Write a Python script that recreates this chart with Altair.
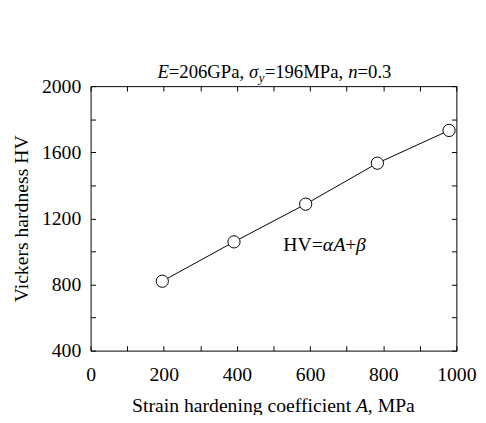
import altair as alt
import pandas as pd

# ---- data ----
A_values = [196, 392, 588, 784, 980]          # strain hardening coefficient A, MPa
HV_values = [820, 1058, 1286, 1534, 1732]     # Vickers hardness HV

x_ticks = [0, 100, 200, 300, 400, 500, 600, 700, 800, 900, 1000]
x_labels = [0, 200, 400, 600, 800, 1000]
y_ticks = [400, 600, 800, 1000, 1200, 1400, 1600, 1800, 2000]
y_labels = [400, 800, 1200, 1600, 2000]

title_parts = ["E", "=206GPa,", "σ", "y", "=196MPa,", "n", "=0.3"]
xtitle_parts = ["Strain hardening coefficient", "A", ", MPa"]
eq_parts = ["HV=", "α", "A", "+", "β"]
y_title = "Vickers hardness HV"

# ---- layout / styles ----
FONT = "Liberation Serif"
W, H = 372, 269
FS = 20

df = pd.DataFrame({"A": A_values, "HV": HV_values})

xscale = alt.Scale(domain=[0, 1000], nice=False, zero=False)
yscale = alt.Scale(domain=[400, 2000], nice=False, zero=False)


def label_expr(vals):
    return "indexof([" + ",".join(str(v) for v in vals) + "], datum.value) >= 0 ? datum.label : ''"


common = dict(domain=False, grid=False, tickSize=5, tickColor="black", tickWidth=1,
              offset=-5, labelFont=FONT, labelFontSize=FS, labelColor="black",
              labelOverlap=False, labelFlush=False)

bottom_axis = alt.Axis(values=x_ticks, labelExpr=label_expr(x_labels), labelPadding=14,
                       title=None, format="d", **common)
left_axis = alt.Axis(values=y_ticks, labelExpr=label_expr(y_labels), labelPadding=10,
                     title=y_title, titleFont=FONT, titleFontSize=FS, titleFontWeight="normal",
                     titleColor="black", titlePadding=10, format="d", **common)
top_axis = alt.Axis(values=x_ticks, orient="top", labels=False, title=None, **common)
right_axis = alt.Axis(values=y_ticks, orient="right", labels=False, title=None, **common)

base = alt.Chart(df)

line = base.mark_line(color="black", strokeWidth=1).encode(
    x=alt.X("A:Q", scale=xscale, axis=bottom_axis),
    y=alt.Y("HV:Q", scale=yscale, axis=left_axis),
)
points = base.mark_point(shape="circle", filled=True, fill="white", stroke="black",
                         strokeWidth=1, size=155, opacity=1).encode(
    x=alt.X("A:Q", scale=xscale, axis=None),
    y=alt.Y("HV:Q", scale=yscale, axis=None),
)
mirror = base.mark_point(opacity=0).encode(
    x=alt.X("A:Q", scale=xscale, axis=top_axis),
    y=alt.Y("HV:Q", scale=yscale, axis=right_axis),
)

one = pd.DataFrame({"k": [0]})


def seg(text, px, py, italic=False, size=FS, align="left"):
    return alt.Chart(one).mark_text(
        text=text, font=FONT, fontSize=size, fontStyle="italic" if italic else "normal",
        color="black", align=align, baseline="alphabetic",
    ).encode(x=alt.value(px), y=alt.value(py))


# title  E=206GPa, σy=196MPa, n=0.3
t_x = [68, 79.5, 161, 171, 177, 262, 271.5]
t_it = [True, False, True, True, False, True, False]
t_y = [-8, -8, -8, -4, -8, -8, -8]
t_fs = [19, 19, 19, 13, 19, 19, 19]
title_layers = [seg(p, x, y, it, s) for p, x, y, it, s in zip(title_parts, t_x, t_y, t_it, t_fs)]

# x-axis title with italic A
xt_x = [265, 270, 282]
xt_al = ["right", "left", "left"]
xt_it = [False, True, False]
xtitle_layers = [seg(p, x, 331, it, FS, al) for p, x, it, al in zip(xtitle_parts, xt_x, xt_it, xt_al)]

# equation annotation HV=αA+β
e_x = [196, 236, 247, 259, 270]
e_it = [False, True, True, False, True]
eq_layers = [seg(p, x, 168, it, FS) for p, x, it in zip(eq_parts, e_x, e_it)]

chart = alt.layer(line, points, mirror, *title_layers, *xtitle_layers, *eq_layers).resolve_axis(
    x="independent", y="independent"
).properties(
    width=W, height=H,
    autosize=alt.AutoSizeParams(type="none"),
    padding={"left": 84, "top": 76, "right": 22, "bottom": 62},
    background="white",
).configure_view(stroke="black", strokeWidth=1)

chart.save("out.html", embed_options={"renderer": "svg", "actions": False})
